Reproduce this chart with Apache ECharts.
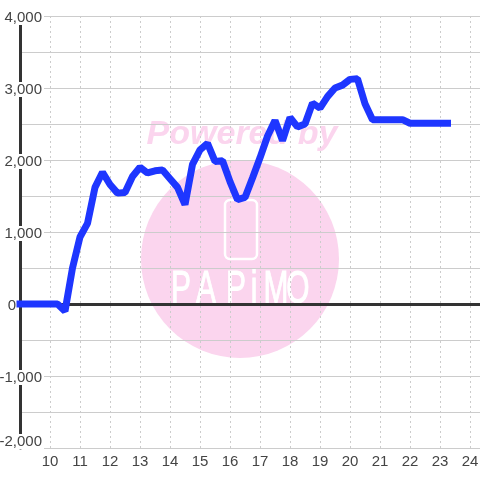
<!DOCTYPE html>
<html>
<head>
<meta charset="utf-8">
<style>html,body{margin:0;padding:0;background:#fff}#c{width:480px;height:480px}</style>
<script src="https://cdn.jsdelivr.net/npm/echarts@6/dist/echarts.min.js"></script>
</head>
<body>
<div id="c"></div>
<script>
const hours = [9,9.25,9.5,9.75,10,10.25,10.5,10.75,11,11.25,11.5,11.75,12,12.25,12.5,12.75,13,13.25,13.5,13.75,14,14.25,14.5,14.75,15,15.25,15.5,15.75,16,16.25,16.5,16.75,17,17.25,17.5,17.75,18,18.25,18.5,18.75,19,19.25,19.5,19.75,20,20.25,20.5,20.75,21,21.25,21.5,21.75,22,22.25,22.5,22.75,23,23.25];
const values = [0,0,0,0,0,0,-100,500,930,1120,1620,1830,1660,1540,1550,1770,1900,1820,1850,1860,1740,1620,1380,1940,2140,2230,1980,1990,1700,1450,1480,1750,2030,2330,2550,2270,2590,2460,2500,2790,2720,2880,3000,3040,3120,3130,2780,2560,2560,2560,2560,2560,2510,2510,2510,2510,2510,2510];
const xTicks = [10,11,12,13,14,15,16,17,18,19,20,21,22,23,24];
const yLabels = {'4000':'4,000','3000':'3,000','2000':'2,000','1000':'1,000','0':'0','-1000':'-1,000','-2000':'-2,000'};
const brandLetters = ['P','A','P','i','M','O'];

const pink = '#fbd5ee';
const chart = echarts.init(document.getElementById('c'), null, {renderer:'canvas'});
const letterX = [181,206,236,254,276,298];
const bg = [
  {type:'circle', z:-10, shape:{cx:240,cy:259,r:99}, style:{fill:pink}},
  {type:'rect', z:-9, shape:{x:225,y:200,width:32,height:59,r:5}, style:{fill:'none',stroke:'#fff',lineWidth:2.5}},
  {type:'text', z:-10, style:{x:242,y:135,text:'Powered by',fill:pink,fontSize:34,fontWeight:'bold',fontStyle:'italic',fontFamily:'Liberation Sans',align:'center',verticalAlign:'middle'}}
];
brandLetters.forEach((l,i)=>bg.push({type:'text', z:-9, x:letterX[i], y:290, scaleX:0.65, style:{text:l,fill:'#fff',stroke:'#fff',lineWidth:1,fontSize:46,fontFamily:'Liberation Sans',align:'center',verticalAlign:'middle'}}));

chart.setOption({
  animation:false,
  backgroundColor:'#fff',
  graphic:{elements:bg},
  grid:{left:20,top:16,width:480,height:432,containLabel:false,outerBoundsMode:'none'},
  xAxis:[{
    type:'value',min:9,max:25,interval:1,position:'bottom',
    axisLine:{onZero:false,show:true,lineStyle:{color:'#ccc',width:1}},
    axisTick:{show:false},
    axisLabel:{color:'#444',fontSize:15,fontFamily:'Liberation Sans',margin:6,showMinLabel:false,
      formatter:v=>xTicks.includes(v)?String(v):''},
    splitLine:{show:true,lineStyle:{color:'#ccc',type:[2,3],width:1}}
  },{
    type:'value',min:9,max:25,interval:1,position:'top',
    axisLine:{onZero:true,show:true,lineStyle:{color:'#333',width:3}},
    axisTick:{show:false},axisLabel:{show:false},splitLine:{show:false}
  }],
  yAxis:{
    type:'value',min:-2000,max:4000,interval:500,position:'left',
    axisLine:{show:true,onZero:false,lineStyle:{color:'#333',width:3}},
    axisTick:{show:false},
    splitLine:{show:true,lineStyle:{color:'#ccc',width:1}},
    axisLabel:{color:'#444',fontSize:15,fontFamily:'Liberation Sans',margin:-24,
      padding:[3,0,0,0],
      verticalAlignMinLabel:'bottom',
      formatter:v=>{
        const s=yLabels[String(v)];
        if(!s) return '';
        return v===0?'{z|0}':'{n|'+s+'}';
      },
      rich:{
        n:{fontSize:15,lineHeight:13,color:'#444',fontFamily:'Liberation Sans',backgroundColor:'#fff',padding:[0,2,0,0]},
        z:{fontSize:15,lineHeight:13,color:'#444',fontFamily:'Liberation Sans',padding:[0,28,0,0]}
      }
    }
  },
  series:[{
    type:'line',xAxisIndex:0,yAxisIndex:0,showSymbol:false,symbol:'none',smooth:false,
    data:hours.map((h,i)=>[h,values[i]]),
    lineStyle:{color:'#1e36ff',width:7,cap:'square',join:'bevel'},z:5
  }]
});
</script>
</body>
</html>
